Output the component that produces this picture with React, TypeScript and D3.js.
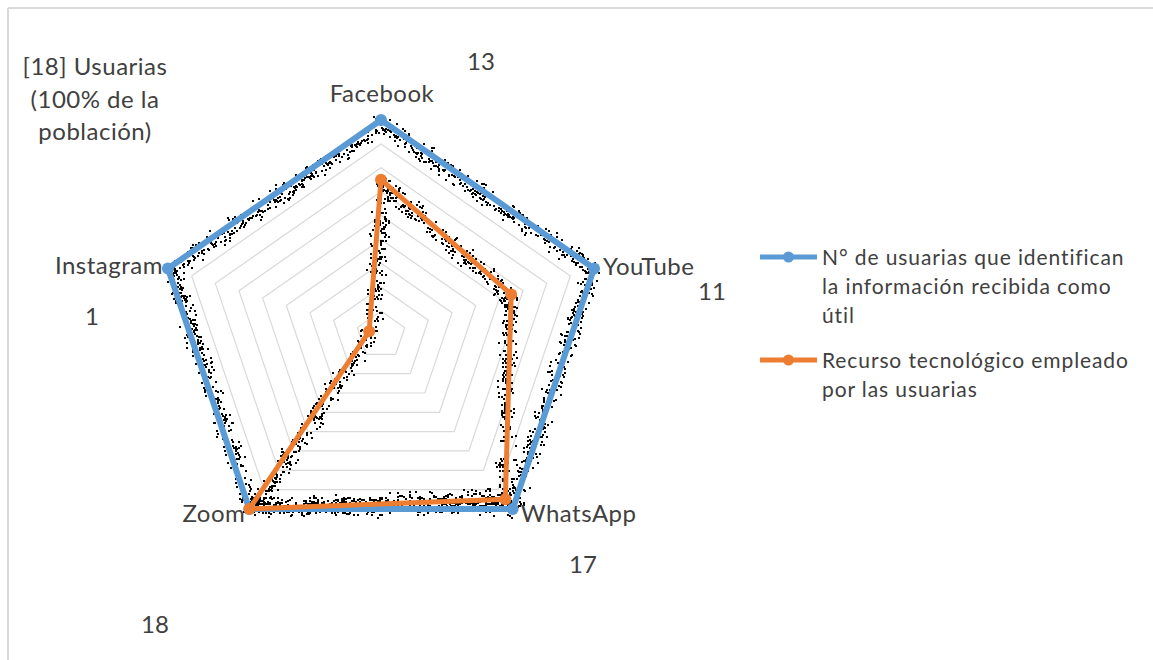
import React from "react";
import * as d3 from "d3";

const categories = ["Facebook", "YouTube", "WhatsApp", "Zoom", "Instagram"];
const utilValues = [18, 18, 18, 18, 18];
const recursoValues = [13, 11, 17, 18, 1];
const gridTicks = [2, 4, 6, 8, 10, 12, 14, 16, 18];
const seriesNames = [
  ["N° de usuarias que identifican", "la información recibida como", "útil"],
  ["Recurso tecnológico empleado", "por las usuarias"],
];
const noteLines = ["[18] Usuarias", "(100% de la", "población)"];

const W = 1153;
const H = 660;
const cx = 381;
const cy = 335;
const MAX = 18;
const rx = d3.scaleLinear().domain([0, MAX]).range([0, 224]);
const ry = d3.scaleLinear().domain([0, MAX]).range([0, 215]);
const angle = d3
  .scaleLinear()
  .domain([0, categories.length])
  .range([-Math.PI / 2, (3 * Math.PI) / 2]);

const pt = (i: number, v: number): [number, number] => [
  cx + rx(v) * Math.cos(angle(i)),
  cy + ry(v) * Math.sin(angle(i)),
];

const closedLine = d3
  .line<[number, number]>()
  .x((d) => d[0])
  .y((d) => d[1])
  .curve(d3.curveLinearClosed);

const BLUE = "#5B9BD5";
const ORANGE = "#ED7D31";
const TXT = "#404040";
const FONT = "Lato, 'Open Sans', sans-serif";

// deterministic hash for the dithered "shadow" texture (decoration only)
const hash = (a: number, b: number) => {
  const s = Math.sin(a * 12.9898 + b * 78.233) * 43758.5453;
  return s - Math.floor(s);
};

function shadowDots(pts: [number, number][], seed: number) {
  const out: [number, number][] = [];
  for (let e = 0; e < pts.length; e++) {
    const p0 = pts[e];
    const p1 = pts[(e + 1) % pts.length];
    const dx = p1[0] - p0[0];
    const dy = p1[1] - p0[1];
    const L = Math.hypot(dx, dy);
    if (L < 1) continue;
    const ux = dx / L;
    const uy = dy / L;
    let nx = -uy;
    let ny = ux;
    const mx = (p0[0] + p1[0]) / 2;
    const my = (p0[1] + p1[1]) / 2;
    if ((cx - mx) * nx + (cy - my) * ny < 0) {
      nx = -nx;
      ny = -ny;
    }
    for (let s = 0; s <= L; s += 2) {
      for (let k = -8; k <= 12; k += 1.5) {
        const ak = Math.abs(k);
        let dens = 0;
        if (k >= 3 && k <= 7) dens = 0.3;
        else if (k > 7 && k <= 12) dens = 0.08;
        else if (k <= -3 && k >= -5) dens = 0.15;
        else if (k < -5) dens = 0.04;
        else if (ak < 3) dens = 0.15;
        if (hash(s + e * 1000 + seed, k * 7.1) < dens) {
          out.push([
            Math.round(p0[0] + ux * s + nx * k),
            Math.round(p0[1] + uy * s + ny * k),
          ]);
        }
      }
    }
  }
  return out;
}

export default function App() {
  const bluePts = utilValues.map((v, i) => pt(i, v));
  const orangePts = recursoValues.map((v, i) => pt(i, v));
  const bluePath = closedLine(bluePts) || "";
  const orangePath = closedLine(orangePts) || "";
  const dots = [...shadowDots(bluePts, 0), ...shadowDots(orangePts, 333)];

  const catLabel = [
    { anchor: "middle", dx: 1, dy: -18 },
    { anchor: "start", dx: 9, dy: 6 },
    { anchor: "start", dx: 8, dy: 13 },
    { anchor: "end", dx: -4, dy: 13 },
    { anchor: "end", dx: -5, dy: 5 },
  ];
  const dataLabelPos: [number, number][] = [
    [481, 70],
    [712, 300],
    [583, 573],
    [155, 633],
    [92, 325],
  ];

  return (
    <svg
      width={W}
      height={H}
      style={{ position: "absolute", left: 0, top: 0, background: "#fff" }}
      fontFamily={FONT}
    >
      <rect x={0} y={0} width={W} height={H} fill="#fff" />
      <line x1={8} x2={W} y1={8} y2={8} stroke="#d9d9d9" strokeWidth={2} />
      <line x1={8} x2={8} y1={8} y2={H} stroke="#d9d9d9" strokeWidth={2} />

      {gridTicks.map((t) => (
        <path
          key={t}
          d={closedLine(categories.map((_, i) => pt(i, t))) || ""}
          fill="none"
          stroke="#d9d9d9"
          strokeWidth={1.2}
        />
      ))}

      <g shapeRendering="crispEdges" fill="#000">
        {dots.map((d, i) => (
          <rect key={i} x={d[0]} y={d[1]} width={1.5} height={1.5} />
        ))}
      </g>

      <path d={bluePath} fill="none" stroke={BLUE} strokeWidth={6} strokeLinejoin="round" />
      {bluePts.map((p, i) => (
        <circle key={"b" + i} cx={p[0]} cy={p[1]} r={6} fill={BLUE} />
      ))}
      <path d={orangePath} fill="none" stroke={ORANGE} strokeWidth={5} strokeLinejoin="round" />
      {orangePts.map((p, i) => (
        <circle key={"o" + i} cx={p[0]} cy={p[1]} r={6} fill={ORANGE} />
      ))}

      {categories.map((c, i) => {
        const [x, y] = pt(i, MAX);
        const l = catLabel[i];
        return (
          <text
            key={c}
            x={x + l.dx}
            y={y + l.dy}
            textAnchor={l.anchor as any}
            fontSize={24}
            letterSpacing={0.5}
            fill={TXT}
          >
            {c}
          </text>
        );
      })}

      {recursoValues.map((v, i) => (
        <text
          key={"dl" + i}
          x={dataLabelPos[i][0]}
          y={dataLabelPos[i][1]}
          textAnchor="middle"
          fontSize={24}
          fill={TXT}
        >
          {v}
        </text>
      ))}

      {noteLines.map((s, i) => (
        <text
          key={"n" + i}
          x={95}
          y={75 + i * 32.5}
          textAnchor="middle"
          fontSize={24}
          letterSpacing={0.5}
          fill={TXT}
        >
          {s}
        </text>
      ))}

      {seriesNames.map((lines, si) => {
        const y0 = si === 0 ? 257 : 360;
        const col = si === 0 ? BLUE : ORANGE;
        return (
          <g key={"lg" + si}>
            <line x1={760} x2={817} y1={y0} y2={y0} stroke={col} strokeWidth={5} />
            <circle cx={788.5} cy={y0} r={5.5} fill={col} />
            {lines.map((s, li) => (
              <text
                key={li}
                x={822}
                y={y0 + 8 + li * 28.8}
                fontSize={21}
                fill={TXT}
                letterSpacing={0.9}
              >
                {s}
              </text>
            ))}
          </g>
        );
      })}
    </svg>
  );
}
